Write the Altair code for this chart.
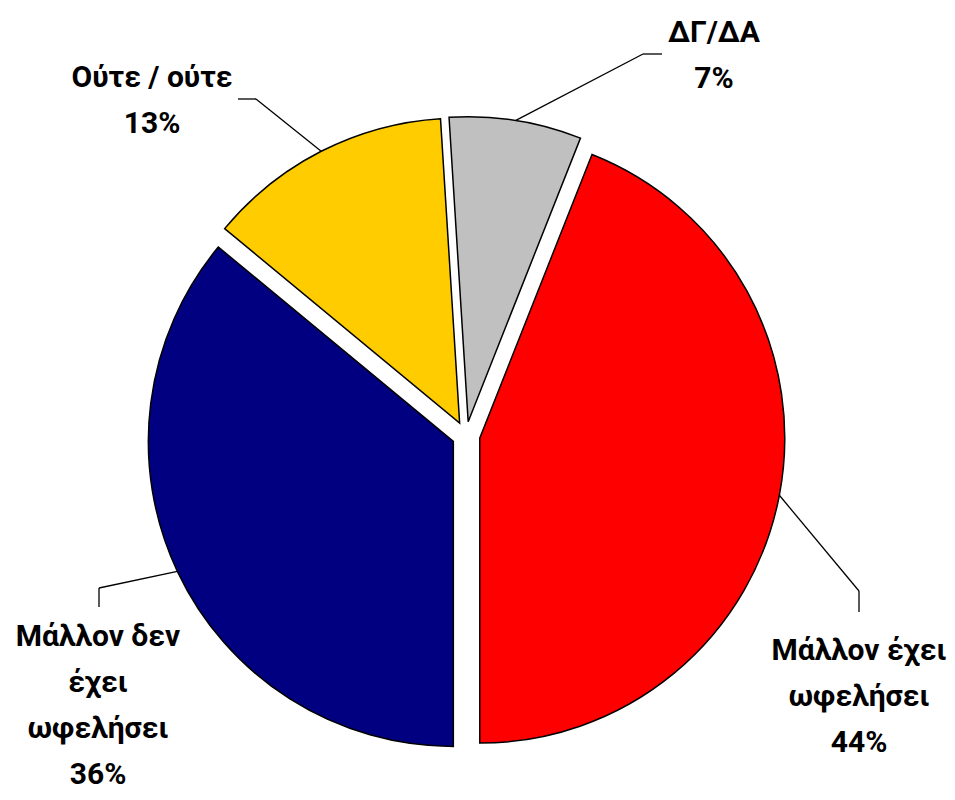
import math
import altair as alt
import pandas as pd

# ---- data ----
categories = ["Μάλλον έχει ωφελήσει", "Μάλλον δεν έχει ωφελήσει", "Ούτε / ούτε", "ΔΓ/ΔΑ"]
label_names = ["Μάλλον έχει\nωφελήσει", "Μάλλον δεν\nέχει\nωφελήσει", "Ούτε / ούτε", "ΔΓ/ΔΑ"]
values = [44, 36, 13, 7]
colors = ["#FF0000", "#000080", "#FFCC00", "#C0C0C0"]

# ---- layout (plot-area pixels) ----
CX, CY = 458, 427.5
R = 305
EXPLODE = 14
START = math.radians(21.6)
label_x = [851, 90, 144, 706]
label_y = [652, 638, 79, 34]
elbow_x = [851, 91, 248, 635]
elbow_y = [583, 580, 91, 46]
end_x = [851, 91, 230, 654]
end_y = [604, 599, 91, 46]

df = pd.DataFrame({
    "cat": categories,
    "name": label_names,
    "value": values,
    "color": colors,
    "order": list(range(len(values))),
    "lx": label_x, "ly": label_y,
    "ex": elbow_x, "ey": elbow_y,
    "tx": end_x, "ty": end_y,
})

base = alt.Chart(df).transform_joinaggregate(
    total="sum(value)"
).transform_window(
    cum="sum(value)", sort=[alt.SortField("order")], frame=[None, 0]
).transform_calculate(
    t0=f"{START} + 2*PI*(datum.cum - datum.value)/datum.total",
    t1=f"{START} + 2*PI*datum.cum/datum.total",
).transform_calculate(
    mid="(datum.t0 + datum.t1)/2"
).transform_calculate(
    cx=f"{CX} + {EXPLODE}*sin(datum.mid)",
    cy=f"{CY} - {EXPLODE}*cos(datum.mid)",
    sx=f"{CX} + {EXPLODE + R}*sin(datum.mid)",
    sy=f"{CY} - {EXPLODE + R}*cos(datum.mid)",
    label="datum.name + '\\n' + datum.value + '%'",
)

arcs = base.mark_arc(radius=R, stroke="black", strokeWidth=1.5).encode(
    x=alt.X("cx:Q", scale=None),
    y=alt.Y("cy:Q", scale=None),
    theta=alt.Theta("t0:Q", scale=None, stack=None),
    theta2=alt.Theta2("t1:Q"),
    color=alt.Color("color:N", scale=None),
)

lead1 = base.mark_rule(color="black", strokeWidth=1.3).encode(
    x=alt.X("sx:Q", scale=None),
    y=alt.Y("sy:Q", scale=None),
    x2="ex:Q",
    y2="ey:Q",
)
lead2 = base.mark_rule(color="black", strokeWidth=1.3).encode(
    x=alt.X("ex:Q", scale=None),
    y=alt.Y("ey:Q", scale=None),
    x2="tx:Q",
    y2="ty:Q",
)

labels = base.mark_text(
    align="center", baseline="alphabetic", lineBreak="\n", lineHeight=46,
    font="Roboto, 'Liberation Sans', Arial, sans-serif", fontSize=30,
    fontWeight="bold", color="black",
).encode(
    x=alt.X("lx:Q", scale=None),
    y=alt.Y("ly:Q", scale=None),
    text="label:N",
)

chart = alt.layer(arcs, lead1, lead2, labels).properties(
    width=939, height=784, padding=0, autosize=alt.AutoSizeParams(type="none")
).configure_view(stroke=None)

chart.save("out.html", embed_options={"renderer": "svg", "actions": False})
